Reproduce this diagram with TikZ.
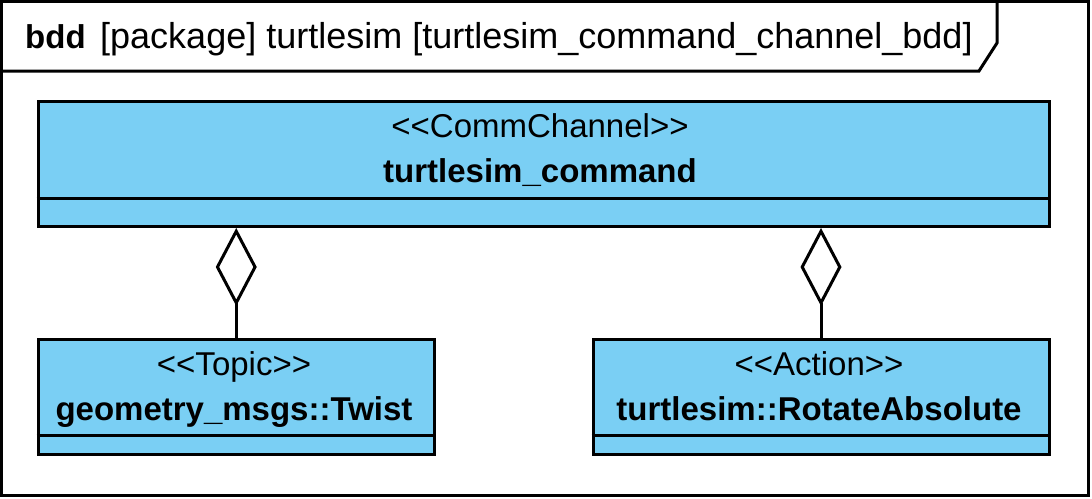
\documentclass[tikz,border=0pt]{standalone}
\usepackage{fontspec}
\setmainfont{Liberation Sans}
\usepackage{tikz}
\usetikzlibrary{arrows.meta, positioning}
\definecolor{classblue}{RGB}{122, 207, 244}

\begin{document}
\begin{tikzpicture}[
  x=1pt, y=-1pt,
  frame/.style={line width=3pt},
  classbox/.style={draw, fill=classblue, line width=3pt, anchor=north west, inner sep=0pt},
  stereo/.style={font=\fontsize{33}{39}\selectfont, anchor=base},
  cname/.style={font=\fontsize{33}{39}\selectfont\bfseries, anchor=base},
  aggr/.style={line width=3pt, {Diamond[open, length=78pt, width=41pt, line width=3pt]}-},
]
  \useasboundingbox (0,0) rectangle (1092,498);

  % Diagram frame and header tab
  \draw[frame] (1.5,1.5) rectangle (1088.5,495.5);
  \draw[frame] (1.5,71) -- (979,71) -- (997,43) -- (997,1.5);
  \node[font=\fontsize{33}{39}\selectfont\bfseries, anchor=base west, inner sep=0pt] (kind) at (25,48) {bdd};
  \node[font=\fontsize{36}{42}\selectfont, anchor=base west, inner sep=0pt] (title) at (100,48)
    {[package] turtlesim [turtlesim\_command\_channel\_bdd]};

  % Channel block
  \node[classbox, minimum width=1011pt, minimum height=125.5pt] (cmd) at (36.5,99.5) {};
  \draw[line width=3pt] ([yshift=30pt]cmd.south west) -- ([yshift=30pt]cmd.south east);
  \node[stereo] (cmd-st) at (540,137) {<{}<CommChannel>{}>};
  \node[cname] (cmd-name) at (540,182) {turtlesim\_command};

  % Topic block
  \node[classbox, minimum width=396.5pt, minimum height=115.5pt] (twist) at (36.5,337.5) {};
  \draw[line width=3pt] ([yshift=21pt]twist.south west) -- ([yshift=21pt]twist.south east);
  \node[stereo] (twist-st) at (234,375) {<{}<Topic>{}>};
  \node[cname] (twist-name) at (234,420) {geometry\_msgs::Twist};

  % Action block
  \node[classbox, minimum width=456pt, minimum height=115.5pt] (rot) at (591.5,337.5) {};
  \draw[line width=3pt] ([yshift=21pt]rot.south west) -- ([yshift=21pt]rot.south east);
  \node[stereo] (rot-st) at (819,375) {<{}<Action>{}>};
  \node[cname] (rot-name) at (819,420) {turtlesim::RotateAbsolute};

  % Aggregations
  \draw[aggr] (twist.north |- cmd.south) -- (twist.north);
  \draw[aggr] (rot.north |- cmd.south) -- (rot.north);

\end{tikzpicture}
\end{document}
